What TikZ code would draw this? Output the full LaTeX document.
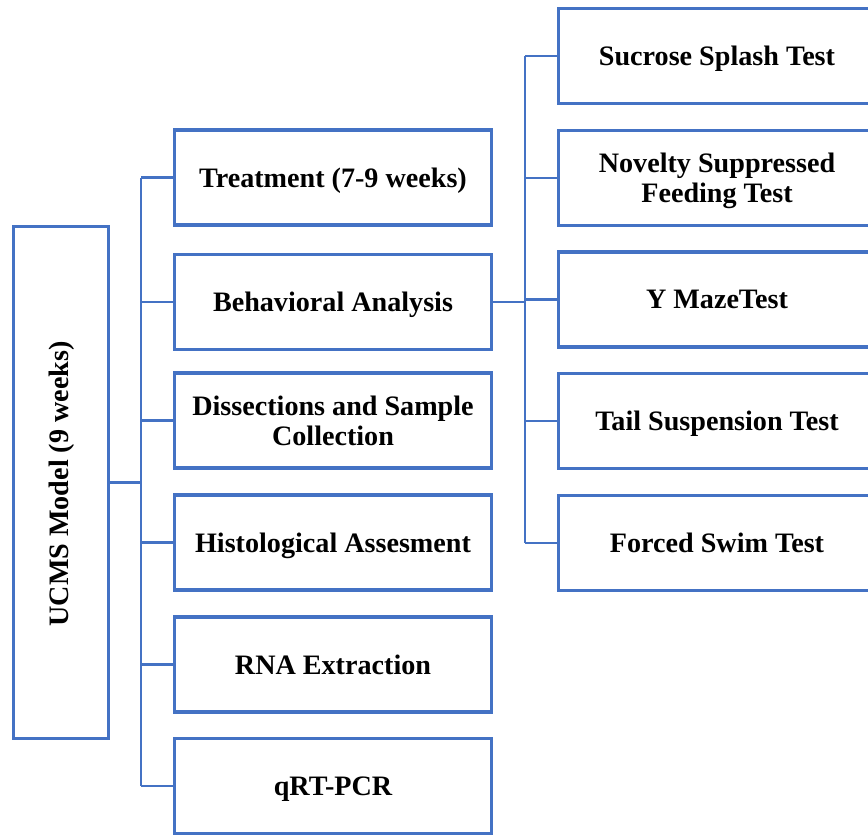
\documentclass[tikz,border=0pt]{standalone}
\usepackage{fontspec}
\setmainfont{Liberation Serif}
\definecolor{boxblue}{RGB}{68,114,196}
\begin{document}
\begin{tikzpicture}[x=0.75pt,y=-0.75pt,
  box/.style={draw=boxblue, line width=2.3pt, fill=white, inner sep=0pt,
    align=center, minimum width=237.75pt, minimum height=71.25pt,
    text depth=0pt, font=\fontsize{21.1}{22.5}\selectfont\bfseries},
  conn/.style={draw=boxblue, line width=1.6pt},
  label/.style={inner sep=0pt, font=\fontsize{21.1}{22.5}\selectfont\bfseries}]
\useasboundingbox (0,0) rectangle (868,835);
\clip (0,0) rectangle (868,835);

% root
\node[box, minimum width=71.25pt, minimum height=384pt] (ucms) at (61,482.5) {};
\node[label, rotate=90] (ucmstext) at (61.5,484) {UCMS Model (9 weeks)};

% main steps
\node[box] (treat) at (333,177.5) {Treatment (7-9 weeks)};
\node[box] (behav) at (333,302) {Behavioral Analysis};
\node[box] (dissect) at (333,420.5) {Dissections and Sample\\Collection};
\node[box] (histo) at (333,542.5) {Histological Assesment};
\node[box] (rna) at (333,664.5) {RNA Extraction};
\node[box] (qpcr) at (333,786) {qRT-PCR};

% behavioural tests
\node[box] (sucrose) at (717,56) {Sucrose Splash Test};
\node[box] (nsf) at (717,178) {Novelty Suppressed\\Feeding Test};
\node[box] (ymaze) at (717,299.5) {Y MazeTest};
\node[box] (tail) at (717,421) {Tail Suspension Test};
\node[box] (swim) at (717,543) {Forced Swim Test};

% trunks
\coordinate (tx) at (141,0);
\coordinate (rx) at (525,0);

\draw[conn] (ucms.east) -- (ucms.east -| tx);
\draw[conn] (tx |- treat.west) -- (tx |- qpcr.west);
\foreach \n in {treat,behav,dissect,histo,rna,qpcr}
  \draw[conn] (tx |- \n.west) -- (\n.west);

\draw[conn] (behav.east) -- (behav.east -| rx);
\draw[conn] (rx |- sucrose.west) -- (rx |- swim.west);
\foreach \n in {sucrose,nsf,ymaze,tail,swim}
  \draw[conn] (rx |- \n.west) -- (\n.west);
\end{tikzpicture}
\end{document}
